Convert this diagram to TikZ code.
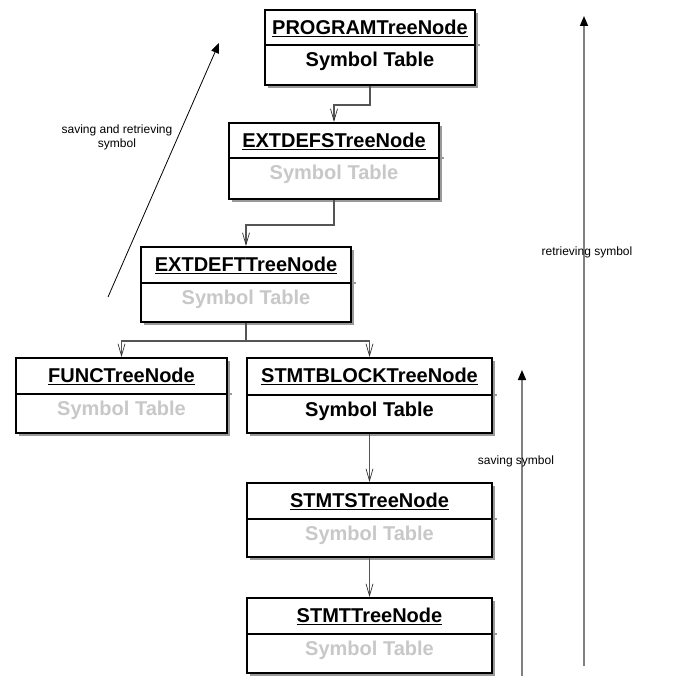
\documentclass[tikz,border=0pt]{standalone}
\usepackage{fontspec}
\setmainfont{Liberation Sans}
\usetikzlibrary{arrows.meta,shadows,calc}
\definecolor{lightsym}{HTML}{C8C8C8}
\definecolor{conn}{HTML}{555555}
\definecolor{bigarrow}{HTML}{808080}
\tikzset{
  umlbox/.style={draw=black, line width=2pt, fill=white, inner sep=0pt,
    drop shadow={shadow xshift=3pt, shadow yshift=-3pt, fill=black!40, opacity=1}},
  titletext/.style={font=\fontsize{20}{24}\selectfont\bfseries, inner sep=0pt},
  symtext/.style={font=\fontsize{20}{24}\selectfont\bfseries, inner sep=0pt},
  divider/.style={draw=black, line width=2pt},
  conline/.style={draw=conn, line width=1.2pt, -{Straight Barb[length=12pt,width=7pt,line width=0.7pt,color=black!80]}},
  bigarr/.style={draw=bigarrow, line width=1.6pt, -{Triangle[length=10pt,width=8pt,color=black]}},
  thinarr/.style={draw=black, line width=0.8pt, -{Triangle[length=10pt,width=8pt,color=black]}},
  lbl/.style={font=\fontsize{12}{14}\selectfont, inner sep=0pt, align=center}
}
\newcommand{\umlnode}[8]{%
  % #1 name, #2 cx, #3 cy, #4 width, #5 height, #6 divider offset from top, #7 title, #8 color of symbol text
  \node[umlbox, minimum width=#4pt, minimum height=#5pt] (#1) at (#2,#3) {};
  \draw[black!40, line width=2pt] ($(#1.north east)+(1pt,-#6pt)$) -- ++(3pt,0);
  \draw[divider] ($(#1.north west)+(0,-#6pt)$) -- ($(#1.north east)+(0,-#6pt)$);
  \node[titletext] (#1t) at ($(#1.north)+(0,-19.5pt)$) {\underline{#7}};
  \node[symtext, text=#8] (#1s) at ($(#1.north)+(0,-#6pt-16pt)$) {Symbol Table};
}
\begin{document}
\begin{tikzpicture}[x=1pt,y=-1pt]
\useasboundingbox (0,0) rectangle (676,700);
\umlnode{P}{370}{47.5}{210}{75}{36}{PROGRAMTreeNode}{black}
\umlnode{ED}{334}{161}{210}{76}{36}{EXTDEFSTreeNode}{lightsym}
\umlnode{EF}{246}{284.5}{210}{75}{37}{EXTDEFTTreeNode}{lightsym}
\umlnode{F}{121.5}{395.5}{211}{75}{37}{FUNCTreeNode}{lightsym}
\umlnode{SB}{369.5}{395.5}{245}{75}{38}{STMTBLOCKTreeNode}{black}
\umlnode{SS}{369.5}{520}{245}{74}{37}{STMTSTreeNode}{lightsym}
\umlnode{ST}{369.5}{635.5}{245}{75}{37}{STMTTreeNode}{lightsym}

% tree connectors
\draw[conline] (P.south) -- ++(0,19) -| (ED.north);
\draw[conline] (ED.south) -- ++(0,25) -| (EF.north);
\draw[conn, line width=1.2pt] (EF.south) -- ++(0,18) coordinate (j);
\draw[conline] (j) -| (F.north);
\draw[conline] (j) -| (SB.north);
\draw[conline] (SB.south) -- (SS.north);
\draw[conline] (SS.south) -- (ST.north);

% diagonal arrow
\coordinate (d1) at (108,297);
\coordinate (d2) at (219,43);
\draw[thinarr] (d1) -- (d2);
\node[lbl] (dl) at (117,137) {saving and retrieving\\symbol};

% right arrows
\coordinate (r1) at (584,666);
\coordinate (r2) at (584,16);
\draw[bigarr] (r1) -- (r2);
\node[lbl] (rl) at (587,252) {retrieving symbol};

\coordinate (s1) at (522,676);
\coordinate (s2) at (522,370);
\draw[bigarr] (s1) -- (s2);
\node[lbl] (sl) at (516,461) {saving symbol};
\end{tikzpicture}
\end{document}
